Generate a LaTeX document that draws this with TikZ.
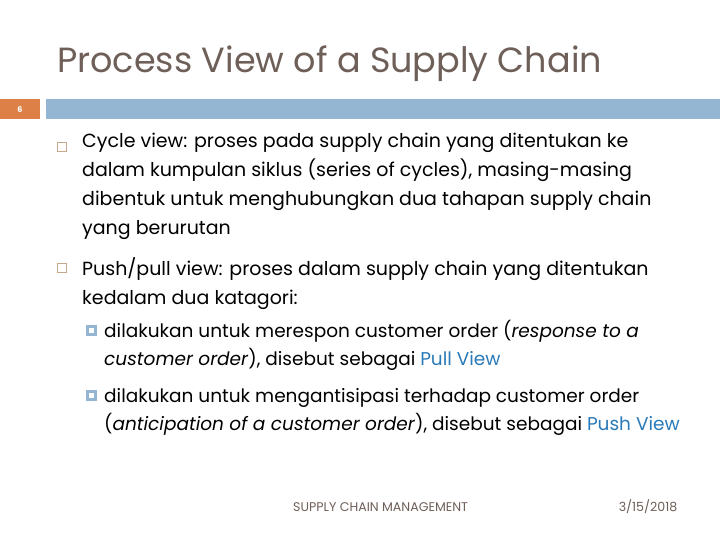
\documentclass[tikz,border=0pt]{standalone}
\usepackage{fontspec}
\setmainfont{Poppins}
\usepackage{tikz}
\definecolor{titlebrown}{HTML}{6E5F58}
\definecolor{barblue}{HTML}{94B6D2}
\definecolor{barorange}{HTML}{DD8047}
\definecolor{boxtan}{HTML}{C6A88C}
\definecolor{linkblue}{HTML}{2A7AB8}
\begin{document}
\begin{tikzpicture}[x=1pt,y=-1pt,
	title/.style={anchor=base west,inner sep=0pt,text=titlebrown,font=\fontsize{35}{38}\selectfont},
	bodyline/.style={anchor=base west,inner sep=0pt,text=black,font=\fontsize{19}{21}\selectfont},
	subline/.style={anchor=base west,inner sep=0pt,text=black,font=\fontsize{18.5}{20}\selectfont},
	footline/.style={anchor=base west,inner sep=0pt,text=titlebrown,font=\fontsize{12.6}{14}\selectfont}]
		\useasboundingbox[fill=white] (0,0) rectangle (720,540);
		% title
		\node[title] (ttl) at (57,73) {Process View of a Supply Chain};
		% header bar
		\fill[barorange] (0,99) rectangle (40,119);
		\fill[barblue] (46,99) rectangle (720,119);
		\node[inner sep=0pt,text=white,font=\fontsize{8}{8}\selectfont\bfseries] (pgno) at (20,109.5) {6};
		% first level bullets
		\draw[boxtan,line width=0.8pt] (57.5,142) rectangle (66.5,151);
		\node[bodyline] (cyc1) at (82,148) {Cycle view: proses pada supply chain yang ditentukan ke};
		\node[bodyline] (cyc2) at (82,177) {dalam kumpulan siklus (series of cycles), masing-masing};
		\node[bodyline] (cyc3) at (82,206) {dibentuk untuk menghubungkan dua tahapan supply chain};
		\node[bodyline] (cyc4) at (82,235) {yang berurutan};
		\draw[boxtan,line width=0.8pt] (57.5,263) rectangle (66.5,272);
		\node[bodyline] (push1) at (82,275) {Push/pull view: proses dalam supply chain yang ditentukan};
		\node[bodyline] (push2) at (82,304) {kedalam dua katagori:};
		% second level bullets
		\draw[barblue,line width=2.6pt] (87.5,326.5) rectangle (95.5,334.5);
		\node[subline] (pull1) at (104,337) {dilakukan untuk merespon customer order (\textit{response to a}};
		\node[subline] (pull2) at (104,365) {\textit{customer order}), disebut sebagai \textcolor{linkblue}{Pull View}};
		\draw[barblue,line width=2.6pt] (87.5,391.5) rectangle (95.5,399.5);
		\node[subline] (ant1) at (104,402) {dilakukan untuk mengantisipasi terhadap customer order};
		\node[subline] (ant2) at (104,430) {(\textit{anticipation of a customer order}), disebut sebagai \textcolor{linkblue}{Push View}};
		% footer
		\node[footline] (foot) at (293,511) {SUPPLY CHAIN MANAGEMENT};
		\node[footline,anchor=base] (date) at (648,511) {3/15/2018};
\end{tikzpicture}
\end{document}
